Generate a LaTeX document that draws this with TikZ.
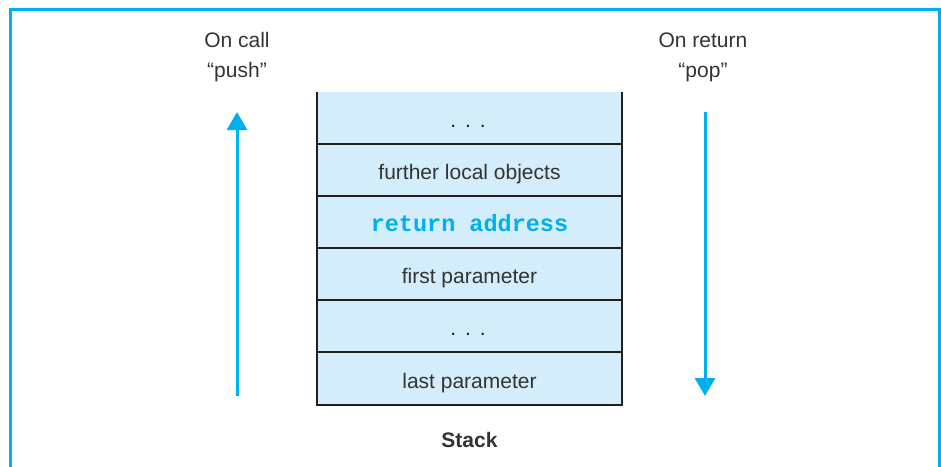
\documentclass[tikz,border=0pt]{standalone}
\usepackage{fontspec}
\setmainfont{Liberation Sans}
\newfontfamily\codefont{Liberation Mono}
\usetikzlibrary{arrows.meta}
\definecolor{cyanline}{HTML}{00B0EE}
\definecolor{rowfill}{HTML}{D4EDFA}
\definecolor{stackline}{HTML}{231F20}
\definecolor{txt}{HTML}{333333}
\tikzset{
  rowbox/.style={fill=rowfill, inner sep=0pt, minimum width=305pt, minimum height=52pt, text height=19pt, text depth=0pt, font=\fontsize{21}{25}\selectfont, text=txt},
  stackedge/.style={draw=stackline, line width=2pt},
  flowarrow/.style={draw=cyanline, line width=3pt, -{Triangle[width=20pt,length=18pt]}},
  label/.style={align=center, font=\fontsize{21}{30}\selectfont, text=txt},
}
\newcommand{\stackdots}{\textcolor{stackline}{\hspace{-3pt}.\hspace{9pt}.\hspace{9pt}.}}
\begin{document}
\begin{tikzpicture}[x=1pt,y=-1pt]
\useasboundingbox (0,0) rectangle (941,466);
% frame
\draw[cyanline, line width=3pt] (10.5,470) -- (10.5,9.5) -- (939.5,9.5) -- (939.5,470);
% stack rows
\node[rowbox] (r1) at (469.5,118) {\stackdots};
\node[rowbox] (r2) at (469.5,170) {further local objects};
\node[rowbox, font=\codefont\bfseries\fontsize{23.5}{25}\selectfont, text=cyanline] (r3) at (469.5,222) {return address};
\node[rowbox] (r4) at (469.5,274) {first parameter};
\node[rowbox] (r5) at (469.5,326) {\stackdots};
\node[rowbox, minimum height=53pt] (r6) at (469.5,378.5) {last parameter};
\draw[stackedge] (r1.north west) -- (r6.south west) -- (r6.south east) -- (r1.north east);
\foreach \r in {r1,r2,r3,r4,r5}{
  \draw[stackedge] (\r.south west) -- (\r.south east);
}
\node[font=\bfseries\fontsize{21}{25}\selectfont, text=txt] (stack) at (469.5,440) {Stack};
% arrows and labels
\node[label] (pushlbl) at (237,57) {On call\\“push”};
\node[label] (poplbl) at (703,57) {On return\\“pop”};
\coordinate (pushbot) at (237,396);
\coordinate (pushtop) at (237,112);
\coordinate (poptop) at (705,112);
\coordinate (popbot) at (705,396);
\draw[flowarrow] (pushbot) -- (pushtop);
\draw[flowarrow] (poptop) -- (popbot);
\end{tikzpicture}
\end{document}
